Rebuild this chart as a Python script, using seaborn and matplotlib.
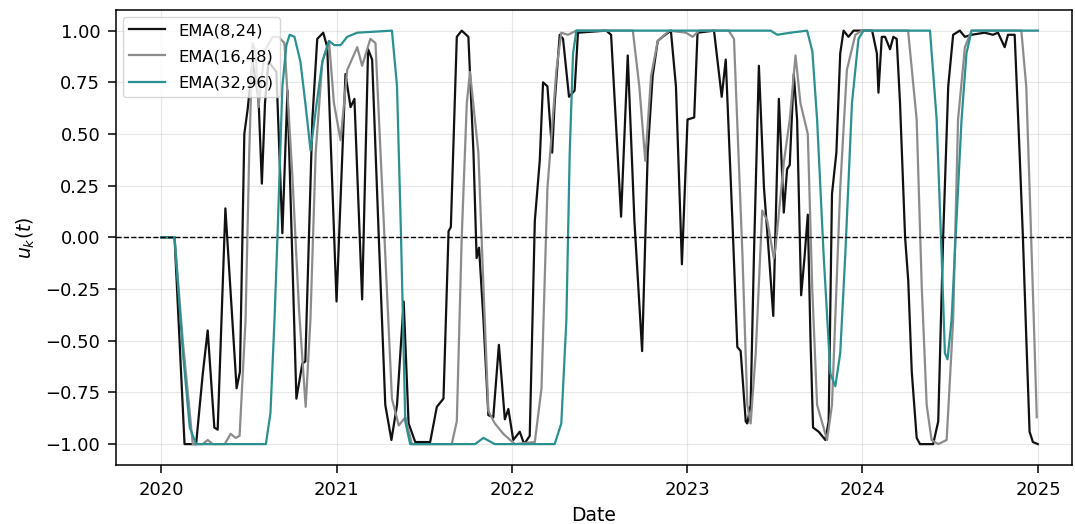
import numpy as np
import pandas as pd
import matplotlib
matplotlib.use("Agg")
import matplotlib.pyplot as plt
import matplotlib.dates as mdates
import seaborn as sns

# ---- data (decimal years, signal values) ----
ema8_t = [2020.000, 2020.076, 2020.133, 2020.199, 2020.237, 2020.265, 2020.303, 2020.322,
          2020.366, 2020.430, 2020.449, 2020.474, 2020.493, 2020.521, 2020.555, 2020.574,
          2020.592, 2020.612, 2020.657, 2020.691, 2020.720, 2020.771, 2020.805, 2020.822,
          2020.862, 2020.890, 2020.924, 2020.947, 2021.000, 2021.051, 2021.080, 2021.102,
          2021.146, 2021.180, 2021.203, 2021.241, 2021.278, 2021.313, 2021.345, 2021.383,
          2021.411, 2021.449, 2021.534, 2021.572, 2021.610, 2021.639, 2021.652, 2021.686,
          2021.714, 2021.752, 2021.781, 2021.799, 2021.813, 2021.838, 2021.866, 2021.894,
          2021.926, 2021.960, 2021.980, 2022.008, 2022.045, 2022.070, 2022.102, 2022.131,
          2022.159, 2022.178, 2022.203, 2022.230, 2022.244, 2022.273, 2022.292, 2022.326,
          2022.358, 2022.377, 2022.538, 2022.566, 2022.623, 2022.661, 2022.699, 2022.743,
          2022.775, 2022.803, 2022.832, 2022.860, 2022.907, 2022.936, 2022.970, 2023.002,
          2023.040, 2023.059, 2023.153, 2023.197, 2023.220, 2023.258, 2023.286, 2023.305,
          2023.334, 2023.343, 2023.362, 2023.381, 2023.409, 2023.438, 2023.466, 2023.491,
          2023.510, 2023.523, 2023.536, 2023.551, 2023.570, 2023.585, 2023.608, 2023.627,
          2023.650, 2023.669, 2023.688, 2023.703, 2023.718, 2023.750, 2023.788, 2023.807,
          2023.826, 2023.851, 2023.873, 2023.892, 2023.920, 2023.949, 2024.055, 2024.082,
          2024.091, 2024.110, 2024.129, 2024.157, 2024.176, 2024.195, 2024.214, 2024.243,
          2024.261, 2024.281, 2024.309, 2024.328, 2024.403, 2024.432, 2024.460, 2024.489,
          2024.517, 2024.555, 2024.584, 2024.622, 2024.697, 2024.744, 2024.773, 2024.811,
          2024.830, 2024.868, 2024.896, 2024.915, 2024.934, 2024.953, 2024.972, 2025.000]
ema8_v = [0.00, 0.00, -1.00, -1.00, -0.66, -0.45, -0.92, -0.93,
          0.14, -0.73, -0.65, 0.50, 0.62, 0.85, 0.67, 0.26,
          0.65, 0.85, 0.80, 0.02, 0.71, -0.78, -0.61, -0.60,
          0.57, 0.96, 0.99, 0.92, -0.31, 0.79, 0.63, 0.67,
          -0.30, 0.91, 0.86, 0.00, -0.81, -0.98, -0.81, -0.31,
          -0.90, -0.99, -0.99, -0.82, -0.78, 0.03, 0.05, 0.97,
          1.00, 0.97, 0.41, -0.10, -0.05, -0.40, -0.86, -0.87,
          -0.52, -0.88, -0.83, -0.98, -0.94, -1.00, -0.96, 0.08,
          0.37, 0.75, 0.73, 0.41, 0.65, 0.98, 0.96, 0.68,
          0.71, 0.99, 1.00, 0.98, 0.10, 0.88, 0.08, -0.55,
          0.41, 0.78, 0.95, 0.97, 1.00, 0.73, -0.13, 0.57,
          0.58, 0.99, 1.00, 0.68, 0.86, 0.08, -0.53, -0.55,
          -0.89, -0.90, -0.81, -0.08, 0.83, 0.24, -0.08, -0.38,
          0.24, 0.67, 0.41, 0.12, 0.33, 0.35, 0.79, 0.57,
          -0.28, -0.10, 0.11, -0.48, -0.92, -0.94, -0.98, -0.89,
          0.21, 0.41, 0.89, 1.00, 0.97, 1.00, 1.00, 0.89,
          0.70, 0.97, 0.97, 0.91, 0.97, 0.96, 0.65, 0.00,
          -0.21, -0.65, -0.97, -1.00, -1.00, -0.89, 0.00, 0.73,
          0.98, 1.00, 0.97, 0.98, 0.99, 0.98, 0.99, 0.92,
          0.98, 0.98, 0.41, 0.00, -0.48, -0.94, -0.99, -1.00]

ema16_t = [2020.000, 2020.076, 2020.123, 2020.180, 2020.237, 2020.265, 2020.294, 2020.362,
           2020.396, 2020.424, 2020.447, 2020.481, 2020.502, 2020.521, 2020.538, 2020.555,
           2020.589, 2020.635, 2020.669, 2020.703, 2020.748, 2020.786, 2020.824, 2020.851,
           2020.881, 2020.919, 2020.957, 2020.985, 2021.023, 2021.061, 2021.118, 2021.146,
           2021.193, 2021.222, 2021.269, 2021.316, 2021.355, 2021.392, 2021.430, 2021.657,
           2021.686, 2021.714, 2021.743, 2021.761, 2021.809, 2021.838, 2021.866, 2021.903,
           2021.951, 2022.017, 2022.131, 2022.169, 2022.203, 2022.226, 2022.254, 2022.282,
           2022.320, 2022.368, 2022.690, 2022.727, 2022.761, 2022.794, 2022.832, 2022.898,
           2022.993, 2023.031, 2023.068, 2023.237, 2023.267, 2023.315, 2023.343, 2023.362,
           2023.391, 2023.428, 2023.457, 2023.494, 2023.504, 2023.551, 2023.585, 2023.618,
           2023.646, 2023.688, 2023.713, 2023.741, 2023.798, 2023.826, 2023.873, 2023.911,
           2023.959, 2023.997, 2024.260, 2024.309, 2024.338, 2024.366, 2024.394, 2024.432,
           2024.480, 2024.517, 2024.545, 2024.584, 2024.622, 2024.906, 2024.934, 2024.953,
           2024.977, 2024.994]
ema16_v = [0.00, 0.00, -0.50, -1.00, -1.00, -0.98, -1.00, -1.00,
           -0.95, -0.97, -0.96, -0.40, 0.41, 0.94, 0.90, 0.63,
           0.90, 0.97, 0.97, 0.94, 0.30, -0.35, -0.82, -0.40,
           0.41, 0.85, 0.95, 0.65, 0.47, 0.81, 0.92, 0.83,
           0.96, 0.94, 0.08, -0.78, -0.91, -0.87, -1.00, -1.00,
           -0.89, 0.00, 0.65, 0.80, 0.41, -0.24, -0.84, -0.90,
           -0.95, -1.00, -0.99, -0.73, 0.24, 0.49, 0.81, 0.99,
           0.98, 1.00, 1.00, 0.73, 0.37, 0.78, 0.95, 1.00,
           0.99, 0.97, 1.00, 1.00, 0.96, -0.08, -0.81, -0.90,
           -0.56, 0.13, 0.08, -0.10, -0.05, 0.36, 0.57, 0.88,
           0.65, 0.50, -0.24, -0.81, -0.98, -0.81, 0.24, 0.81,
           0.98, 1.00, 1.00, 0.57, -0.24, -0.81, -0.98, -1.00,
           -0.98, -0.40, 0.57, 0.92, 1.00, 1.00, 0.73, 0.24,
           -0.40, -0.87]

ema32_t = [2020.000, 2020.076, 2020.123, 2020.163, 2020.199, 2020.597, 2020.623, 2020.646,
           2020.663, 2020.691, 2020.714, 2020.733, 2020.760, 2020.794, 2020.822, 2020.852,
           2020.879, 2020.919, 2020.957, 2020.987, 2021.023, 2021.061, 2021.118, 2021.316,
           2021.345, 2021.368, 2021.392, 2021.420, 2021.790, 2021.838, 2021.903, 2022.244,
           2022.282, 2022.311, 2022.330, 2022.349, 2022.368, 2023.476, 2023.514, 2023.589,
           2023.684, 2023.714, 2023.741, 2023.778, 2023.817, 2023.845, 2023.873, 2023.902,
           2023.940, 2023.977, 2024.006, 2024.385, 2024.423, 2024.451, 2024.470, 2024.485,
           2024.508, 2024.536, 2024.565, 2024.593, 2024.622, 2025.000]
ema32_v = [0.00, 0.00, -0.55, -0.92, -1.00, -1.00, -0.85, -0.40,
           0.00, 0.73, 0.93, 0.98, 0.97, 0.85, 0.65, 0.42,
           0.60, 0.85, 0.95, 0.93, 0.93, 0.97, 0.99, 1.00,
           0.73, 0.00, -0.89, -1.00, -1.00, -0.97, -1.00, -1.00,
           -0.90, -0.40, 0.41, 0.89, 1.00, 1.00, 0.98, 0.99,
           1.00, 0.90, 0.57, -0.08, -0.66, -0.72, -0.56, -0.08,
           0.65, 0.96, 1.00, 1.00, 0.57, -0.08, -0.56, -0.59,
           -0.40, 0.08, 0.57, 0.89, 1.00, 1.00]

labels = ["EMA(8,24)", "EMA(16,48)", "EMA(32,96)"]
colors = ["#111111", "#8c8c8c", "#2a9090"]


def to_dates(years):
    base = pd.Timestamp("2020-01-01")
    return [base + pd.Timedelta(days=(y - 2020.0) * 365.25) for y in years]


frames = []
for lab, t, v in zip(labels, [ema8_t, ema16_t, ema32_t], [ema8_v, ema16_v, ema32_v]):
    frames.append(pd.DataFrame({"Date": to_dates(t), "u": v, "series": lab}))
df = pd.concat(frames, ignore_index=True)

plt.rcParams["font.family"] = ["DejaVu Sans"]
plt.rcParams["axes.linewidth"] = 1.1
fig = plt.figure(figsize=(10.75, 5.24), dpi=100)
ax = fig.add_axes([0.108, 0.113, 0.889, 0.868])

for lab, col in zip(labels, colors):
    sub = df[df["series"] == lab]
    sns.lineplot(data=sub, x="Date", y="u", ax=ax, color=col, label=lab,
                 linewidth=1.6, estimator=None, sort=False)

ax.axhline(0, color="black", linestyle="--", linewidth=1.0)
ax.grid(True, alpha=0.3)
ax.set_ylim(-1.1, 1.1)
ax.set_xlim(pd.Timestamp("2019-09-29"), pd.Timestamp("2025-03-12"))
ax.set_yticks([-1.0, -0.75, -0.5, -0.25, 0.0, 0.25, 0.5, 0.75, 1.0])
ax.xaxis.set_major_locator(mdates.YearLocator())
ax.xaxis.set_major_formatter(mdates.DateFormatter("%Y"))
ax.tick_params(labelsize=13, length=5.5, width=1.1, pad=6)
ax.set_xlabel("Date", fontsize=13.5, labelpad=5)
ax.set_ylabel("$u_k(t)$", fontsize=13.5, labelpad=6)
ax.legend(loc="upper left", fontsize=11.8, framealpha=0.8,
          handlelength=2.2, labelspacing=0.68, borderaxespad=0.4)

fig.savefig("out.png", dpi=100)
